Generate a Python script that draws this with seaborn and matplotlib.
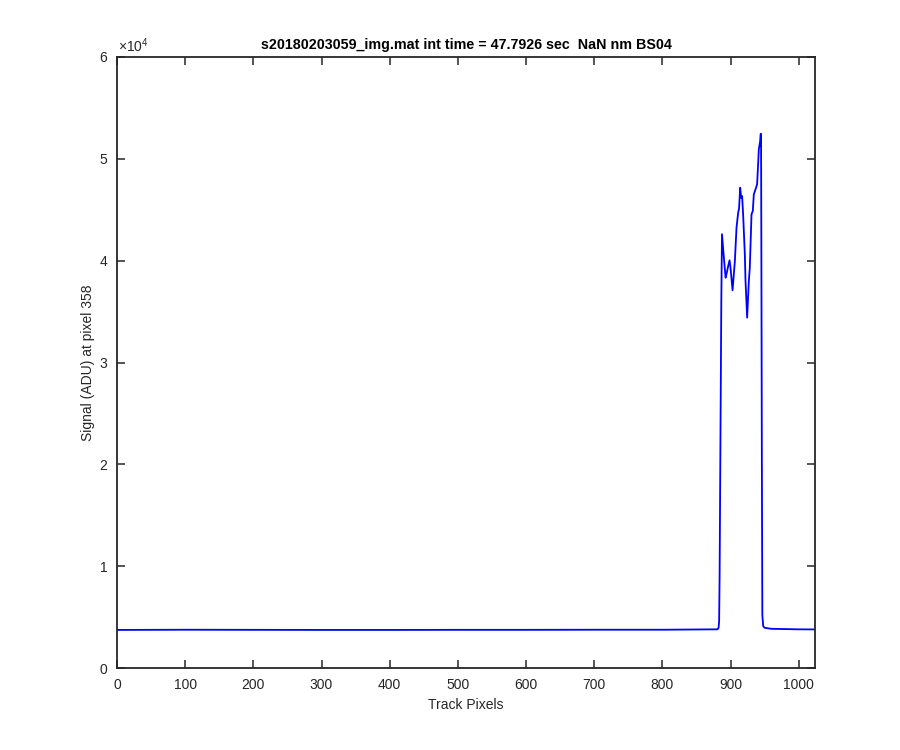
import matplotlib
matplotlib.use("Agg")
import matplotlib.pyplot as plt
import seaborn as sns
import pandas as pd
from matplotlib.ticker import FuncFormatter

# ---- data ----
track_px = [0, 100, 200, 300, 400, 500, 600, 700, 800, 881, 882.5, 883.3, 884, 886.5, 887.5,
            890, 892.8, 894.5, 896.6, 898.6, 900, 903, 906.4, 908.8, 911.2, 912.5, 914.2,
            915.6, 917, 918.5, 921, 922, 924.4, 926.9, 928.3, 930.8, 932.7, 934.2, 936.7,
            939, 940.5, 941.5, 943.5, 944.2, 944.8, 945.3, 946, 946.7, 948, 950, 960,
            1000, 1024]
signal = [3740, 3760, 3750, 3740, 3740, 3750, 3750, 3760, 3760, 3800, 3950, 4600, 9000,
          36000, 42600, 40500, 38330, 38800, 39480, 40040, 39310, 37090, 39970, 43240,
          44710, 45100, 47160, 46180, 46350, 44550, 40630, 38010, 34410, 38010, 39310,
          44550, 44880, 46520, 47010, 47500, 49460, 50930, 51750, 52460, 52460, 40000,
          20000, 5200, 4100, 3950, 3850, 3800, 3790]
title_text = "s20180203059_img.mat int time = 47.7926 sec  NaN nm BS04"
x_label = "Track Pixels"
y_label = "Signal (ADU) at pixel 358"
x_ticks = list(range(0, 1001, 100))
y_ticks = [0, 10000, 20000, 30000, 40000, 50000, 60000]

df = pd.DataFrame({"px": track_px, "sig": signal})

sns.set_theme(style="white")
plt.rcParams["font.family"] = ["Liberation Sans", "DejaVu Sans"]

fig = plt.figure(figsize=(9, 7.5), dpi=100)
fig.patch.set_facecolor("white")
ax = fig.add_axes([0.13, 0.1093, 0.7756, 0.8147])

sns.lineplot(data=df, x="px", y="sig", ax=ax, color=(0, 0, 1), linewidth=1.3,
             sort=False, estimator=None)

ax.set_xlim(0, 1024)
ax.set_ylim(0, 60000)
ax.set_xticks(x_ticks)
ax.set_yticks(y_ticks)
ax.yaxis.set_major_formatter(FuncFormatter(lambda v, p: f"{v/1e4:g}"))

dark = (0.15, 0.15, 0.15)
for s in ax.spines.values():
    s.set_visible(True)
    s.set_color(dark)
    s.set_linewidth(1.3)
ax.tick_params(direction="in", length=5.5, width=1.1, colors=dark, labelsize=10,
               top=True, right=True, bottom=True, left=True, labelcolor=dark)
ax.tick_params(axis="x", pad=7.5)
ax.tick_params(axis="y", pad=7)
ax.set_xlabel(x_label, fontsize=10, color=dark)
ax.set_ylabel(y_label, fontsize=10, color=dark)
ax.xaxis.set_label_coords(0.5, -0.0606, transform=ax.transAxes)
ax.yaxis.set_label_coords(-0.0415, 0.5, transform=ax.transAxes)
ax.xaxis.label.set_verticalalignment("center")
ax.yaxis.label.set_verticalalignment("center")
ax.set_title(title_text, fontsize=10.3, fontweight="bold", color="black", pad=6)
ax.text(0.002, 1.004, r"$\mathregular{\times10^{4}}$", transform=ax.transAxes,
        fontsize=10, color=dark, ha="left", va="bottom")
ax.grid(False)

fig.savefig("out.png", dpi=100, facecolor="white")
